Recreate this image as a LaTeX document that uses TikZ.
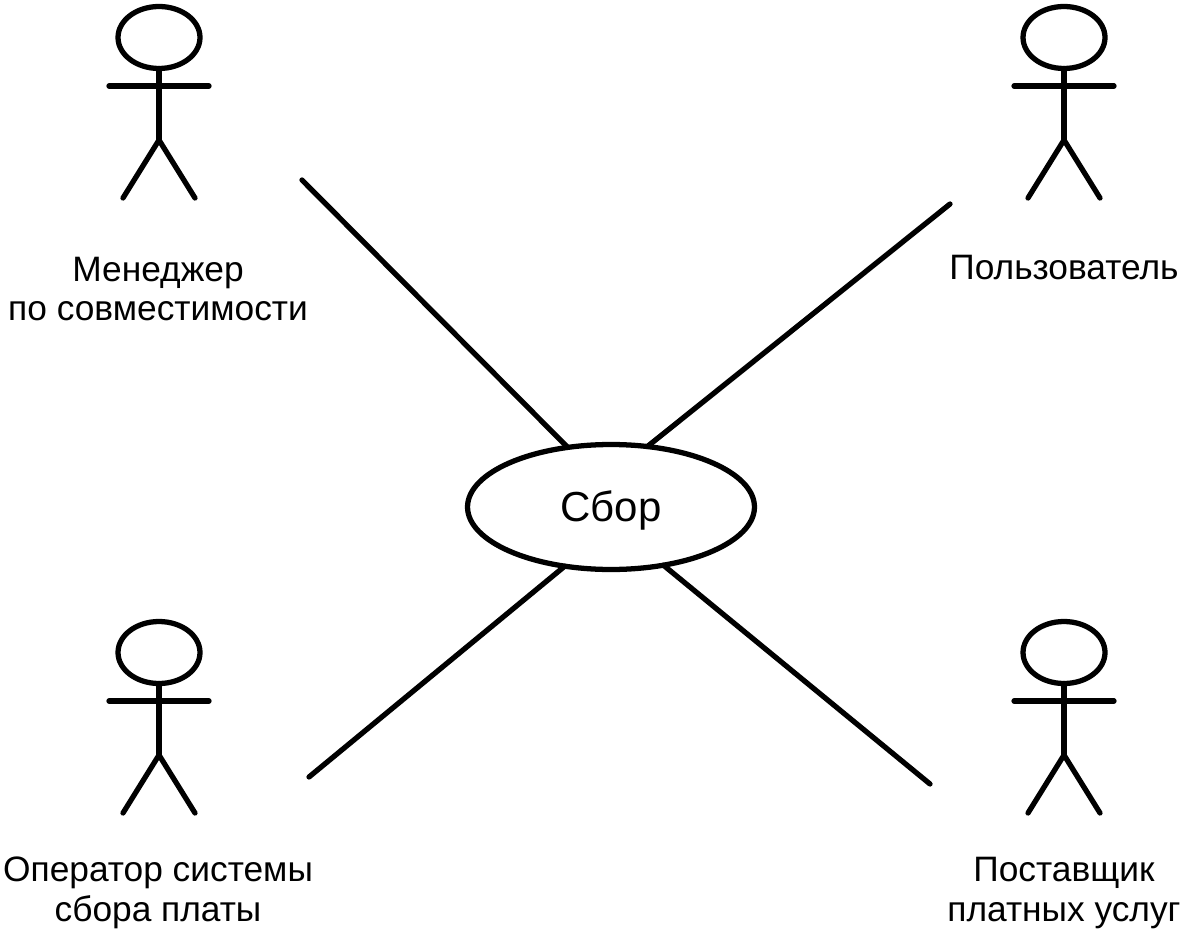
\documentclass[tikz,border=0pt]{standalone}
\usepackage{fontspec}
\setmainfont{Liberation Sans}
\usetikzlibrary{positioning,shapes.geometric}
\begin{document}
\begin{tikzpicture}[
    x=0.02cm, y=-0.02cm,
    line width=3pt, line cap=round,
    usecase/.style={draw, ellipse, minimum width=5.74cm, minimum height=2.5cm, inner sep=0pt, outer sep=0pt, text height=21pt, text depth=5pt, font=\fontsize{23.9}{28}\selectfont},
    head/.style={draw, ellipse, minimum width=1.64cm, minimum height=1.24cm, inner sep=0pt, outer sep=0pt},
    label/.style={align=center, font=\fontsize{20.1}{22.7}\selectfont, inner sep=0pt},
    actor/.pic={
        \node[head] (-head) at (0, 37.5) {};
        \coordinate (-hip) at (0, 140);
        \draw (-head.south) -- (-hip);
        \draw (-50, 86) -- (50, 86);
        \draw (-36, 198) -- (-hip) -- (36, 198);
    },
]
\useasboundingbox (0, 0) rectangle (1182, 932);
% actors
\pic (mgr) at (159, 0) {actor};
\pic (usr) at (1064, 0) {actor};
\pic (opr) at (159, 615) {actor};
\pic (svc) at (1064, 615) {actor};
\node[label] (mgrlabel) at (158, 289) {Менеджер\\по совместимости};
\node[label] (usrlabel) at (1064, 268) {Пользователь};
\node[label] (oprlabel) at (158, 893) {Оператор системы\\сбора платы};
\node[label] (svclabel) at (1064, 893) {Поставщик\\платных услуг};
% use case
\node[usecase] (sbor) at (611, 507) {Сбор};
\coordinate (mgrend) at (302, 180);
\coordinate (usrend) at (950, 204);
\coordinate (oprend) at (309, 777);
\coordinate (svcend) at (930, 784);
\draw (mgrend) -- (sbor.126);
\draw (usrend) -- (sbor.59);
\draw (oprend) -- (sbor.232);
\draw (svcend) -- (sbor.312);
\end{tikzpicture}
\end{document}
